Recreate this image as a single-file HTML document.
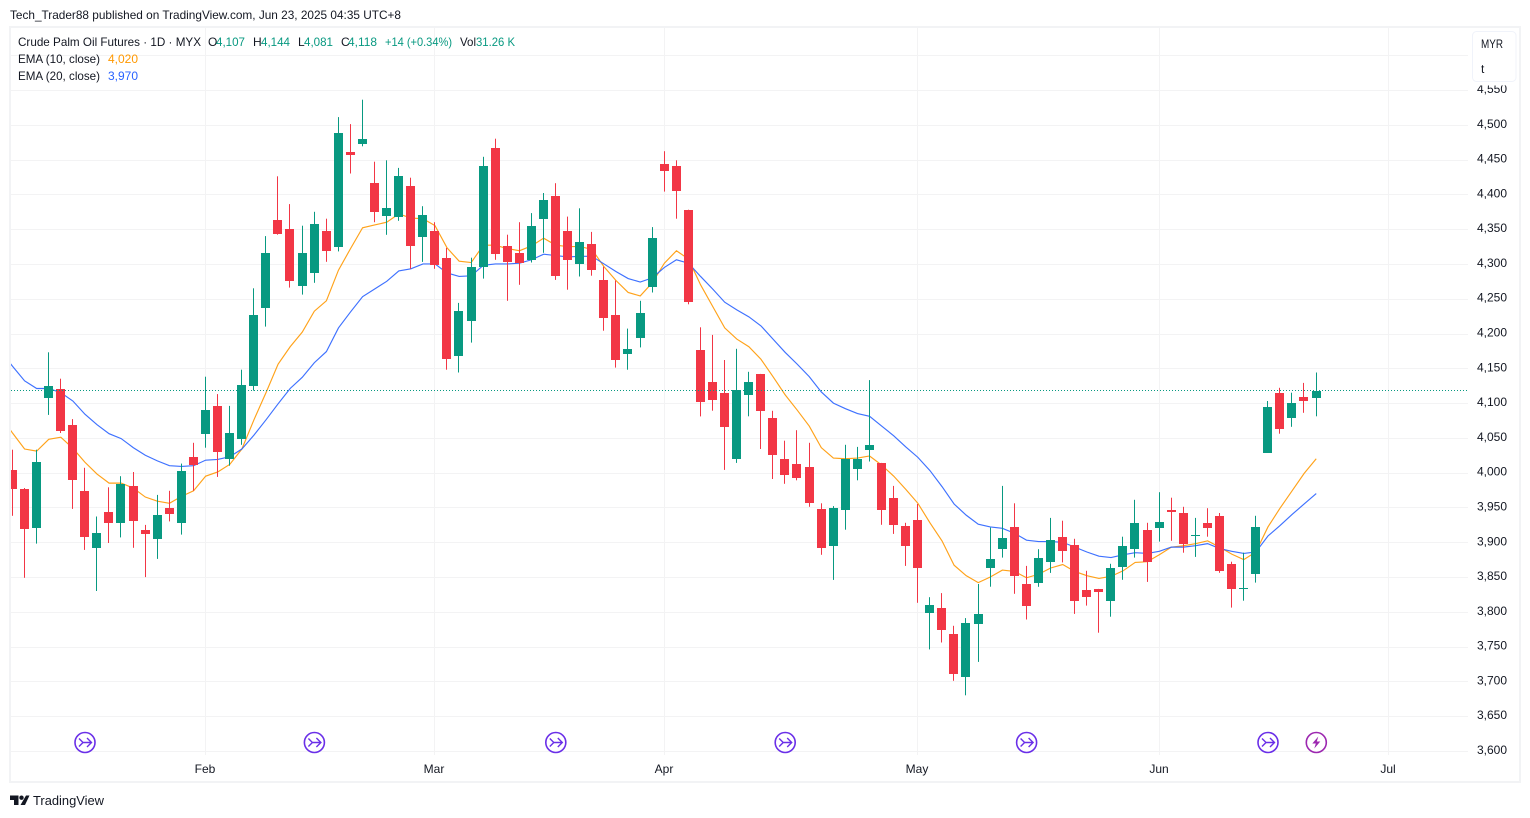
<!DOCTYPE html>
<html lang="en">
<head>
<meta charset="utf-8">
<title>Crude Palm Oil Futures chart</title>
<style>
html,body{margin:0;padding:0;background:#fff;width:1530px;height:818px;overflow:hidden}
svg{display:block}
text{font-family:"Liberation Sans",sans-serif;font-size:12px;fill:#131722}
</style>
</head>
<body>
<svg id="chart" xmlns="http://www.w3.org/2000/svg" width="1530" height="818" viewBox="0 0 1530 818">
  <defs><clipPath id="plot-clip"><rect x="11" y="28" width="1457" height="727"/></clipPath></defs>
  <text x="10" y="19" textLength="391" lengthAdjust="spacingAndGlyphs">Tech_Trader88 published on TradingView.com, Jun 23, 2025 04:35 UTC+8</text>
  <rect x="10" y="27" width="1510" height="755" fill="none" stroke="#f2f3f5" stroke-width="2"/>
  <g id="grid"></g>
  <g id="ema10-layer" clip-path="url(#plot-clip)"></g>
  <g id="ema20-layer" clip-path="url(#plot-clip)"></g>
  <g id="candles" clip-path="url(#plot-clip)"></g>
  <g id="last-price"></g>
  <g id="events"></g>
  <g id="y-axis"></g>
  <g id="x-axis"></g>

  <g>
    <text x="18" y="46" textLength="183" lengthAdjust="spacingAndGlyphs">Crude Palm Oil Futures · 1D · MYX</text>
    <text x="208" y="46">O</text>
    <text x="216" y="46" textLength="29" lengthAdjust="spacingAndGlyphs" style="fill:#089981">4,107</text>
    <text x="253" y="46">H</text>
    <text x="261" y="46" textLength="29" lengthAdjust="spacingAndGlyphs" style="fill:#089981">4,144</text>
    <text x="298" y="46">L</text>
    <text x="304" y="46" textLength="29" lengthAdjust="spacingAndGlyphs" style="fill:#089981">4,081</text>
    <text x="341" y="46">C</text>
    <text x="348" y="46" textLength="29" lengthAdjust="spacingAndGlyphs" style="fill:#089981">4,118</text>
    <text x="385" y="46" textLength="67" lengthAdjust="spacingAndGlyphs" style="fill:#089981">+14 (+0.34%)</text>
    <text x="460" y="46" textLength="16" lengthAdjust="spacingAndGlyphs">Vol</text>
    <text x="476" y="46" textLength="39" lengthAdjust="spacingAndGlyphs" style="fill:#089981">31.26 K</text>
    <text x="18" y="63" textLength="82" lengthAdjust="spacingAndGlyphs">EMA (10, close)</text>
    <text x="108" y="63" textLength="30" lengthAdjust="spacingAndGlyphs" style="fill:#ff9800">4,020</text>
    <text x="18" y="80" textLength="82" lengthAdjust="spacingAndGlyphs">EMA (20, close)</text>
    <text x="108" y="80" textLength="30" lengthAdjust="spacingAndGlyphs" style="fill:#2962ff">3,970</text>
  </g>

  <rect x="1472" y="78" width="44" height="7.5" fill="#fff"/>
  <g>
    <rect x="1472.5" y="31.5" width="43.5" height="50" rx="4" fill="#fff" stroke="#f0f3fa"/>
    <text x="1481" y="48" textLength="22" lengthAdjust="spacingAndGlyphs">MYR</text>
    <text x="1481" y="73">t</text>
  </g>

  <g>
    <path d="M10 795.5H18.5V805H14V800H10Z M26 795.5H29.5L25 805H20.5Z" fill="#131722"/>
    <circle cx="21.5" cy="797.7" r="2.2" fill="#131722"/>
    <text x="33" y="805" textLength="71" lengthAdjust="spacingAndGlyphs" style="font-size:13px">TradingView</text>
  </g>

<script>
const openPrices = [4004,3977,3921,4108,4120,4069,3974,3892,3944,3927,3981,3918,3904,3949,3927,4023,4056,4096,4019,4049,4125,4236,4363,4350,4269,4287,4347,4325,4461,4473,4416,4369,4368,4412,4338,4347,4309,4167,4218,4295,4467,4326,4316,4305,4364,4398,4347,4300,4329,4277,4227,4170,4193,4267,4444,4441,4378,4176,4130,4115,4019,4111,4142,4079,4020,4013,4008,3948,3894,3947,4006,4032,4014,3964,3923,3932,3799,3806,3768,3707,3783,3863,3891,3922,3840,3841,3871,3908,3896,3831,3833,3815,3865,3891,3918,3921,3946,3942,3910,3928,3938,3869,3833,3855,4029,4115,4078,4109,4107];
const highPrices = [4033,3978,4033,4173,4135,4077,4007,3937,3979,3995,4001,3925,3968,3974,4013,4043,4138,4113,4096,4148,4265,4340,4426,4386,4355,4375,4365,4511,4501,4536,4447,4449,4438,4424,4383,4360,4323,4244,4309,4454,4480,4342,4360,4373,4402,4416,4368,4380,4346,4296,4276,4207,4247,4353,4462,4449,4378,4209,4198,4162,4178,4145,4142,4089,4046,4061,4043,3956,3952,4040,4037,4133,4014,3981,3928,3955,3821,3827,3780,3791,3840,3921,3981,3956,3866,3890,3935,3931,3905,3859,3833,3869,3908,3961,3928,3972,3964,3951,3935,3949,3942,3872,3885,3938,4103,4122,4115,4129,4144];
const lowPrices = [3938,3849,3898,4083,4057,3948,3889,3830,3899,3907,3892,3850,3876,3930,3911,3974,4036,3994,4010,4040,4118,4210,4342,4266,4256,4273,4303,4318,4430,4469,4360,4342,4362,4293,4303,4293,4148,4144,4187,4279,4306,4247,4270,4302,4316,4277,4263,4282,4283,4204,4151,4148,4180,4259,4404,4365,4242,4081,4089,4004,4014,4081,4034,3991,3984,3989,3951,3882,3846,3918,3989,4016,3925,3912,3866,3813,3746,3756,3701,3680,3728,3836,3878,3826,3789,3836,3856,3871,3797,3809,3770,3793,3846,3878,3843,3901,3902,3885,3879,3908,3856,3806,3816,3842,4029,4056,4066,4086,4081];
const closePrices = [3977,3919,4015,4125,4060,3990,3908,3913,3928,3984,3930,3912,3939,3940,4002,4011,4090,4030,4057,4126,4227,4316,4343,4276,4316,4357,4319,4488,4457,4480,4374,4380,4426,4326,4370,4299,4164,4232,4296,4441,4315,4303,4301,4355,4392,4283,4306,4332,4292,4223,4162,4178,4230,4337,4434,4405,4246,4102,4105,4065,4119,4130,4088,4026,3997,3993,3957,3892,3949,4020,4020,4040,3947,3925,3894,3863,3810,3774,3710,3784,3797,3876,3906,3851,3809,3877,3903,3888,3815,3822,3828,3863,3895,3928,3872,3929,3943,3898,3911,3920,3858,3833,3834,3922,4094,4063,4100,4103,4118];
// First entry of each EMA belongs to the bar just left of the visible window.
const ema10Values = [4082,4057,4034,4031,4048,4051,4035,4015,3998,3985,3985,3978,3965,3959,3956,3966,3974,3995,4001,4012,4034,4076,4115,4156,4181,4202,4232,4247,4291,4322,4352,4356,4360,4372,4366,4365,4355,4323,4304,4302,4327,4327,4322,4319,4326,4337,4327,4325,4325,4321,4296,4276,4259,4254,4273,4301,4319,4307,4270,4239,4208,4192,4181,4163,4138,4112,4090,4067,4036,4021,4020,4021,4024,4011,3995,3976,3956,3928,3902,3867,3852,3842,3850,3860,3858,3849,3854,3863,3868,3858,3852,3848,3851,3859,3871,3872,3882,3893,3895,3898,3902,3893,3883,3875,3886,3922,3949,3974,3999,4020];
const ema20Values = [4175,4153,4132,4121,4121,4115,4103,4084,4069,4056,4049,4036,4025,4017,4010,4009,4010,4018,4019,4023,4034,4054,4076,4099,4121,4137,4158,4174,4208,4231,4253,4264,4275,4290,4293,4300,4300,4287,4282,4283,4298,4300,4300,4301,4306,4314,4312,4310,4311,4311,4300,4289,4279,4274,4280,4295,4306,4301,4282,4264,4245,4234,4224,4211,4192,4173,4156,4138,4116,4100,4092,4085,4081,4067,4053,4037,4022,4003,3980,3955,3939,3926,3922,3920,3913,3903,3901,3901,3900,3893,3886,3880,3878,3882,3885,3884,3887,3893,3893,3895,3898,3891,3887,3884,3886,3909,3924,3940,3955,3970];
const priceTicks = [3600,3650,3700,3750,3800,3850,3900,3950,4000,4050,4100,4150,4200,4250,4300,4350,4400,4450,4500,4550,4600];
const monthLabels = ["Feb","Mar","Apr","May","Jun","Jul"];
const monthBars = [16,35,54,75,95,114];
const eventBars = [6,25,45,64,84,104,108];
const eventKinds = ["dividend","dividend","dividend","dividend","dividend","dividend","earnings"];
const lastPrice = 4118;

const UP = "#089981", DOWN = "#f23645";
const yScale = p => 751 - (p - 3600) * 0.6958;
const xScale = i => 12.32 + i * 12.0714;
const pxScale = i => Math.floor(xScale(i));
const NS = "http://www.w3.org/2000/svg";
const mk = (tag, parent) => { const n = document.createElementNS(NS, tag); parent.appendChild(n); return n; };
const fmt = v => String(v).replace(/(\d)(\d{3})$/, "$1,$2");

const grid = document.getElementById("grid");
priceTicks.forEach(p => {
  const l = mk("line", grid);
  
  
  const y = Math.round(yScale(p)) + 0.5;
  l.setAttribute("x1", 11); l.setAttribute("x2", 1468);
  l.setAttribute("y1", y); l.setAttribute("y2", y);
  l.setAttribute("stroke", "#f3f3f4");
});
monthBars.forEach(b => {
  const l = mk("line", grid);
  
  
  const x = pxScale(b) + 0.5;
  l.setAttribute("x1", x); l.setAttribute("x2", x);
  l.setAttribute("y1", 28); l.setAttribute("y2", 755);
  l.setAttribute("stroke", "#f3f3f4");
});

const emaPoints = vals => vals.map((v, k) => (xScale(k - 1) + 0.2).toFixed(2) + "," + yScale(v).toFixed(2)).join(" ");
const ema10Line = mk("polyline", document.getElementById("ema10-layer"));


ema10Line.setAttribute("points", emaPoints(ema10Values));
ema10Line.setAttribute("fill", "none");
ema10Line.setAttribute("stroke", "#ff9800");
ema10Line.setAttribute("stroke-width", "1.15");
ema10Line.setAttribute("stroke-opacity", "0.9");
const ema20Line = mk("polyline", document.getElementById("ema20-layer"));


ema20Line.setAttribute("points", emaPoints(ema20Values));
ema20Line.setAttribute("fill", "none");
ema20Line.setAttribute("stroke", "#2962ff");
ema20Line.setAttribute("stroke-width", "1.15");
ema20Line.setAttribute("stroke-opacity", "0.9");

const candles = document.getElementById("candles");
openPrices.forEach((o, i) => {
  const c = closePrices[i], h = highPrices[i], l = lowPrices[i];
  const col = c >= o ? UP : DOWN;
  const px = pxScale(i);
  const g = mk("g", candles);
  
  
  const w = mk("rect", g);
  
  
  w.setAttribute("x", px); w.setAttribute("width", 1);
  w.setAttribute("y", yScale(h).toFixed(1));
  w.setAttribute("height", (yScale(l) - yScale(h)).toFixed(1));
  w.setAttribute("fill", col);
  const top = Math.round(yScale(Math.max(o, c)));
  const bot = Math.round(yScale(Math.min(o, c)));
  const b = mk("rect", g);
  
  
  b.setAttribute("x", px - 4); b.setAttribute("width", 9);
  b.setAttribute("y", top);
  b.setAttribute("height", Math.max(1, bot - top));
  b.setAttribute("fill", col);
});

const lastLayer = document.getElementById("last-price");
const lastLine = mk("line", lastLayer);


const ly = Math.floor(yScale(lastPrice)) + 0.5;
lastLine.setAttribute("x1", 11); lastLine.setAttribute("x2", 1468);
lastLine.setAttribute("y1", ly); lastLine.setAttribute("y2", ly);
lastLine.setAttribute("stroke", UP);
lastLine.setAttribute("stroke-dasharray", "1 2");

const yAxis = document.getElementById("y-axis");
priceTicks.filter(p => p <= 4550).forEach(p => {
  const t = mk("text", yAxis);
  
  
  t.setAttribute("x", 1507);
  t.setAttribute("y", (yScale(p) + 3).toFixed(1));
  t.setAttribute("text-anchor", "end");
  t.textContent = fmt(p);
});

const xAxis = document.getElementById("x-axis");
monthLabels.forEach((m, k) => {
  const t = mk("text", xAxis);
  
  
  t.setAttribute("x", pxScale(monthBars[k]));
  t.setAttribute("y", 773);
  t.setAttribute("text-anchor", "middle");
  t.textContent = m;
});

const events = document.getElementById("events");
eventBars.forEach((b, k) => {
  const kind = eventKinds[k];
  const col = kind === "earnings" ? "#9c27b0" : "#6a2fe8";
  const g = mk("g", events);
  
  
  g.setAttribute("transform", "translate(" + (xScale(b) + 0.3).toFixed(1) + ",742.5)");
  const c = mk("circle", g);
  
  
  c.setAttribute("r", 10);
  c.setAttribute("fill", "#fff");
  c.setAttribute("stroke", col);
  c.setAttribute("stroke-width", 1.6);
  const p = mk("path", g);
  
  
  if (kind === "earnings") {
    p.setAttribute("d", "M2 -6L-4 1H-0.5L-2 6L4 -1H0.5Z");
    p.setAttribute("fill", col);
  } else {
    p.setAttribute("d", "M-6 -4L-2 0L-6 4M-2 0H6M2 -4.5L6.5 0L2 4.5");
    p.setAttribute("fill", "none");
    p.setAttribute("stroke", col);
    p.setAttribute("stroke-width", 1.4);
  }
});
</script>
</svg>
</body>
</html>
